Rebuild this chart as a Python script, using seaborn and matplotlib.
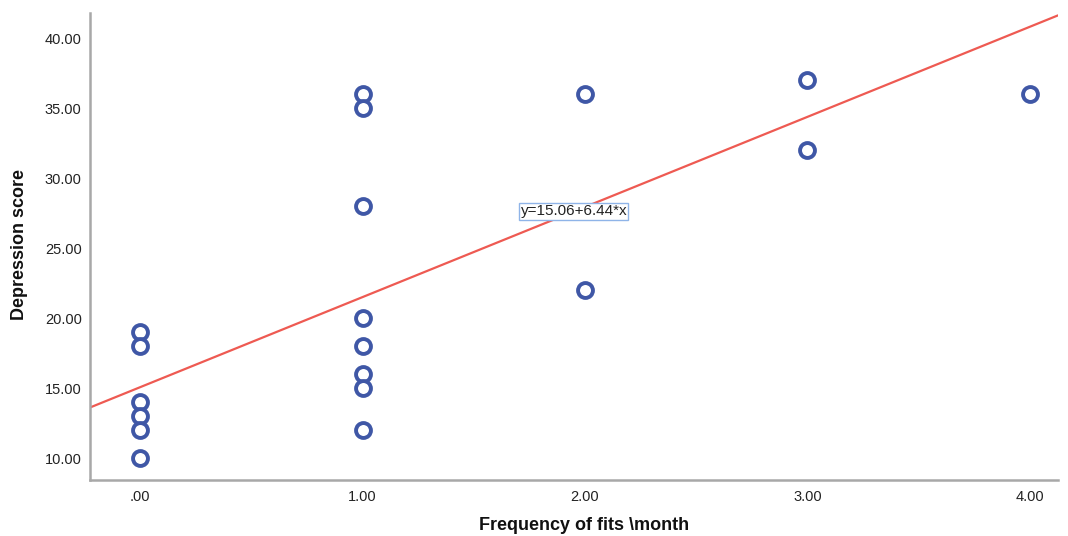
import matplotlib
matplotlib.use("Agg")
import matplotlib.pyplot as plt
import numpy as np
import pandas as pd
import seaborn as sns

# Observations: fits per month vs depression score
fits = [0, 0, 0, 0, 0, 0,
        1, 1, 1, 1, 1, 1, 1, 1,
        2, 2,
        3, 3,
        4]
depression = [19, 18, 14, 13, 12, 10,
              36, 35, 28, 20, 18, 16, 15, 12,
              36, 22,
              37, 32,
              36]

# Fitted linear model shown on the chart
intercept = 15.06
slope = 6.44
fit_label = "y=15.06+6.44*x"
label_x = 1.95

x_ticks = [0, 1, 2, 3, 4]
y_ticks = [10, 15, 20, 25, 30, 35, 40]

df = pd.DataFrame({"fits": fits, "depression": depression})

sns.set_theme(style="white")
plt.rcParams["font.family"] = ["Liberation Sans", "DejaVu Sans"]

fig = plt.figure(figsize=(10.68, 5.36), dpi=100)
ax = fig.add_axes([0.0843, 0.1045, 0.9063, 0.8712])

xlim = (-0.225, 4.126)
ylim = (8.43, 41.8)
ax.set_xlim(*xlim)
ax.set_ylim(*ylim)

# Regression line across the full x range
line_x = np.array(xlim)
line_df = pd.DataFrame({"x": line_x, "y": intercept + slope * line_x})
sns.lineplot(data=line_df, x="x", y="y", ax=ax, color="#ee5a52",
             linewidth=1.6, zorder=2)

sns.scatterplot(data=df, x="fits", y="depression", ax=ax, marker="o",
                s=115, facecolors="white", edgecolor="#3f57a6",
                linewidth=2.8, zorder=3)

ax.text(label_x, intercept + slope * label_x, fit_label, ha="center",
        va="center", fontsize=11, color="#222222", zorder=4,
        bbox=dict(boxstyle="square,pad=0.08", facecolor="white",
                  edgecolor="#8fb4e8", linewidth=1.0))

def fmt(v):
    s = f"{v:.2f}"
    return s[1:] if s.startswith("0") else s

ax.set_xticks(x_ticks)
ax.set_xticklabels([fmt(v) for v in x_ticks])
ax.set_yticks(y_ticks)
ax.set_yticklabels([fmt(v) for v in y_ticks])
ax.tick_params(axis="both", length=0, labelsize=10.5, labelcolor="#222222")
ax.tick_params(axis="x", pad=7)
ax.tick_params(axis="y", pad=6)

for side in ["top", "right"]:
    ax.spines[side].set_visible(False)
for side in ["left", "bottom"]:
    ax.spines[side].set_color("#a8a8a8")
    ax.spines[side].set_linewidth(1.8)

ax.set_xlabel("")
ax.set_ylabel("")
fig.text(584 / 1068, 1 - 525 / 536, "Frequency of fits \\month", ha="center",
         va="center", fontsize=13, fontweight="bold", color="#111111")
fig.text(20 / 1068, 1 - 245 / 536, "Depression score", ha="center",
         va="center", rotation=90, fontsize=13, fontweight="bold",
         color="#111111")

fig.savefig("out.png", dpi=100, facecolor="white")
